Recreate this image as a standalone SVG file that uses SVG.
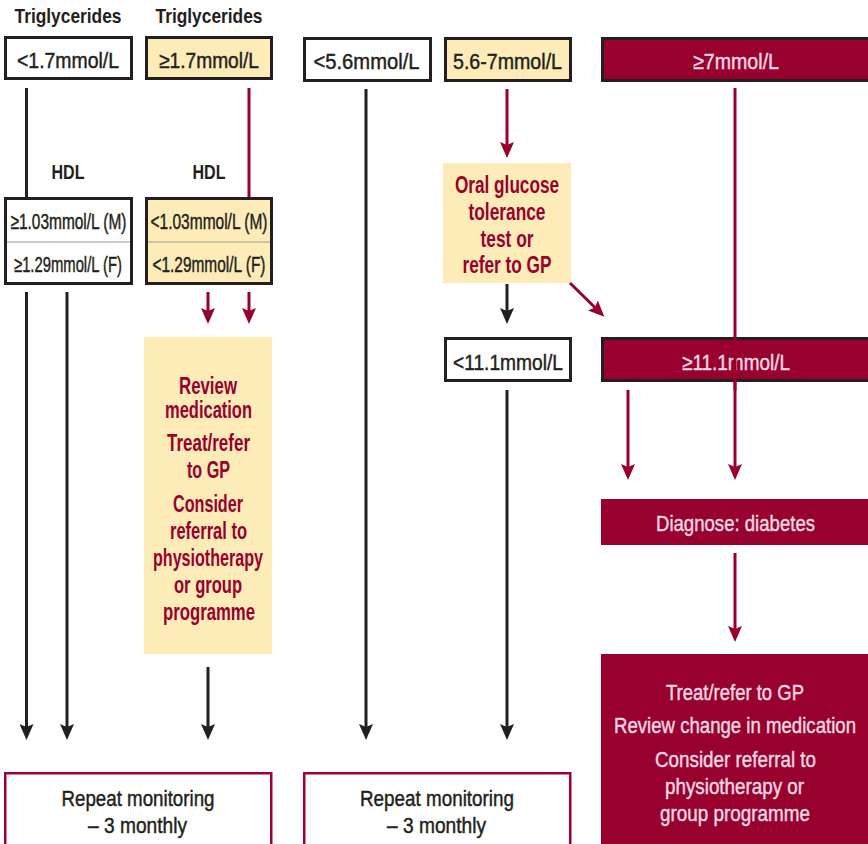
<svg xmlns="http://www.w3.org/2000/svg" width="868" height="844" viewBox="0 0 868 844">
  <style>
    text { font-family: "Liberation Sans Narrow", "Liberation Sans", Arial, sans-serif; text-anchor: middle; }
    .h { font-size: 21px; font-weight: bold; fill: #231f20; }
    .v { font-size: 22px; fill: #231f20; stroke: #231f20; stroke-width: 0.45; }
    .r { font-size: 23px; fill: #98002e; font-weight: bold; }
    .w { font-size: 22px; fill: #f1d7e2; stroke: #f1d7e2; stroke-width: 0.45; }
    .box { fill: #ffffff; stroke: #231f20; stroke-width: 3; }
    .ybox { fill: #feecb8; stroke: #231f20; stroke-width: 3; }
    .rbox { fill: #98002e; stroke: #231f20; stroke-width: 3; }
    .yfill { fill: #feecb8; }
    .rfill { fill: #98002e; }
    .mon { fill: #ffffff; stroke: #a0003a; stroke-width: 2.5; }
    .div { stroke: #9a9a9a; stroke-width: 1; }
    .k { stroke: #231f20; stroke-width: 3; fill: none; }
    .kr { stroke: #98002e; stroke-width: 3; fill: none; }
    .ka { stroke: #231f20; stroke-width: 3; fill: none; marker-end: url(#ak); }
    .ra { stroke: #98002e; stroke-width: 3; fill: none; marker-end: url(#ar); }
  </style>
  <defs>
    <marker id="ak" markerUnits="userSpaceOnUse" markerWidth="17" markerHeight="14" refX="6" refY="7" orient="auto">
      <path d="M0,0 L16,7 L0,14 L3,7 Z" fill="#231f20"/>
    </marker>
    <marker id="ar" markerUnits="userSpaceOnUse" markerWidth="17" markerHeight="14" refX="6" refY="7" orient="auto">
      <path d="M0,0 L16,7 L0,14 L3,7 Z" fill="#98002e"/>
    </marker>
  </defs>

  <text class="h" x="68" y="23" textLength="107" lengthAdjust="spacingAndGlyphs">Triglycerides</text>
  <text class="h" x="209" y="23" textLength="107" lengthAdjust="spacingAndGlyphs">Triglycerides</text>
  <text class="h" x="68" y="179" textLength="33" lengthAdjust="spacingAndGlyphs">HDL</text>
  <text class="h" x="209" y="179" textLength="33" lengthAdjust="spacingAndGlyphs">HDL</text>

  <g id="tg-low">
    <rect class="box" x="5.5" y="37.5" width="126" height="41"/>
    <text class="v" x="68" y="68" textLength="102" lengthAdjust="spacingAndGlyphs">&lt;1.7mmol/L</text>
  </g>
  <g id="tg-high">
    <rect class="ybox" x="146.5" y="37.5" width="125" height="41"/>
    <text class="v" x="209" y="68" textLength="100" lengthAdjust="spacingAndGlyphs">≥1.7mmol/L</text>
  </g>
  <g id="hdl-ok">
    <rect class="box" x="5.5" y="198.5" width="126" height="85"/>
    <line class="div" x1="7" y1="242" x2="130" y2="242"/>
    <text class="v" x="68.5" y="229" textLength="116" lengthAdjust="spacingAndGlyphs">≥1.03mmol/L (M)</text>
    <text class="v" x="68" y="272" textLength="108" lengthAdjust="spacingAndGlyphs">≥1.29mmol/L (F)</text>
  </g>
  <g id="hdl-low">
    <rect class="ybox" x="146.5" y="198.5" width="125" height="85"/>
    <line class="div" x1="148" y1="242" x2="270" y2="242"/>
    <text class="v" x="209" y="229" textLength="117" lengthAdjust="spacingAndGlyphs">&lt;1.03mmol/L (M)</text>
    <text class="v" x="209" y="272" textLength="113" lengthAdjust="spacingAndGlyphs">&lt;1.29mmol/L (F)</text>
  </g>
  <g id="review">
    <rect class="yfill" x="144" y="337" width="128" height="317"/>
    <text class="r" x="208" y="394" textLength="58" lengthAdjust="spacingAndGlyphs">Review</text>
    <text class="r" x="208.5" y="418" textLength="87" lengthAdjust="spacingAndGlyphs">medication</text>
    <text class="r" x="208.5" y="451" textLength="83" lengthAdjust="spacingAndGlyphs">Treat/refer</text>
    <text class="r" x="208.5" y="478" textLength="43" lengthAdjust="spacingAndGlyphs">to GP</text>
    <text class="r" x="208" y="512" textLength="70" lengthAdjust="spacingAndGlyphs">Consider</text>
    <text class="r" x="208.5" y="539" textLength="77" lengthAdjust="spacingAndGlyphs">referral to</text>
    <text class="r" x="208" y="566" textLength="110" lengthAdjust="spacingAndGlyphs">physiotherapy</text>
    <text class="r" x="208" y="593" textLength="68" lengthAdjust="spacingAndGlyphs">or group</text>
    <text class="r" x="209" y="620" textLength="92" lengthAdjust="spacingAndGlyphs">programme</text>
  </g>
  <g id="monitor-1">
    <rect class="mon" x="5.25" y="773.25" width="266" height="90"/>
    <text class="v" x="138" y="806" textLength="153" lengthAdjust="spacingAndGlyphs">Repeat monitoring</text>
    <text class="v" x="137.5" y="833" textLength="99" lengthAdjust="spacingAndGlyphs">– 3 monthly</text>
  </g>

  <g id="g-low">
    <rect class="box" x="304.5" y="38.5" width="126" height="42"/>
    <text class="v" x="366.5" y="69" textLength="106" lengthAdjust="spacingAndGlyphs">&lt;5.6mmol/L</text>
  </g>
  <g id="g-mid">
    <rect class="ybox" x="445.5" y="38.5" width="125" height="42"/>
    <text class="v" x="507.5" y="69" textLength="109" lengthAdjust="spacingAndGlyphs">5.6-7mmol/L</text>
  </g>
  <g id="g-high">
    <rect class="rbox" x="602.5" y="38.5" width="270" height="42"/>
    <text class="w" x="736" y="69" textLength="86" lengthAdjust="spacingAndGlyphs">≥7mmol/L</text>
  </g>
  <g id="ogtt">
    <rect class="yfill" x="443" y="163" width="128" height="120"/>
    <text class="r" x="507" y="193" textLength="104" lengthAdjust="spacingAndGlyphs">Oral glucose</text>
    <text class="r" x="507" y="220" textLength="77" lengthAdjust="spacingAndGlyphs">tolerance</text>
    <text class="r" x="507" y="247" textLength="53" lengthAdjust="spacingAndGlyphs">test or</text>
    <text class="r" x="507" y="273" textLength="89" lengthAdjust="spacingAndGlyphs">refer to GP</text>
  </g>
  <g id="ogtt-low">
    <rect class="box" x="445.5" y="338.5" width="125" height="42"/>
    <text class="v" x="508" y="370" textLength="110" lengthAdjust="spacingAndGlyphs">&lt;11.1mmol/L</text>
  </g>
  <g id="ogtt-high">
    <rect class="rbox" x="602.5" y="338.5" width="270" height="42"/>
    <text class="w" x="736" y="370" textLength="108" lengthAdjust="spacingAndGlyphs">≥11.1mmol/L</text>
  </g>
  <g id="diagnose">
    <rect class="rfill" x="601" y="499" width="267" height="46"/>
    <text class="w" x="735.5" y="531" textLength="159" lengthAdjust="spacingAndGlyphs">Diagnose: diabetes</text>
  </g>
  <g id="treat">
    <rect class="rfill" x="601" y="654" width="267" height="190"/>
    <text class="w" x="735" y="700" textLength="138" lengthAdjust="spacingAndGlyphs">Treat/refer to GP</text>
    <text class="w" x="735" y="733" textLength="242" lengthAdjust="spacingAndGlyphs">Review change in medication</text>
    <text class="w" x="735.5" y="767" textLength="161" lengthAdjust="spacingAndGlyphs">Consider referral to</text>
    <text class="w" x="734.5" y="794" textLength="139" lengthAdjust="spacingAndGlyphs">physiotherapy or</text>
    <text class="w" x="735" y="821" textLength="150" lengthAdjust="spacingAndGlyphs">group programme</text>
  </g>
  <g id="monitor-2">
    <rect class="mon" x="304.25" y="773.25" width="266" height="90"/>
    <text class="v" x="437" y="806" textLength="154" lengthAdjust="spacingAndGlyphs">Repeat monitoring</text>
    <text class="v" x="436.5" y="833" textLength="99" lengthAdjust="spacingAndGlyphs">– 3 monthly</text>
  </g>

  <g id="connectors">
    <line class="k" x1="26.5" y1="88" x2="26.5" y2="197"/>
    <line class="kr" x1="249" y1="88" x2="249" y2="197"/>
    <line class="ka" x1="26.5" y1="292" x2="26.5" y2="730"/>
    <line class="ka" x1="67" y1="292" x2="67" y2="730"/>
    <line class="ra" x1="208" y1="292" x2="208" y2="314"/>
    <line class="ra" x1="249" y1="292" x2="249" y2="314"/>
    <line class="ka" x1="208" y1="667" x2="208" y2="730"/>
    <line class="ka" x1="366" y1="89" x2="366" y2="730"/>
    <line class="ra" x1="507" y1="89" x2="507" y2="148"/>
    <line class="ka" x1="507" y1="284" x2="507" y2="314"/>
    <line class="ra" x1="570" y1="283" x2="597.2" y2="309.7"/>
    <line class="ka" x1="507" y1="390" x2="507" y2="730"/>
    <line class="kr" x1="735" y1="88" x2="735" y2="390"/>
    <line class="ra" x1="735" y1="382" x2="735" y2="470"/>
    <line class="ra" x1="628" y1="390" x2="628" y2="470"/>
    <line class="ra" x1="735" y1="553" x2="735" y2="632"/>
  </g>
</svg>
